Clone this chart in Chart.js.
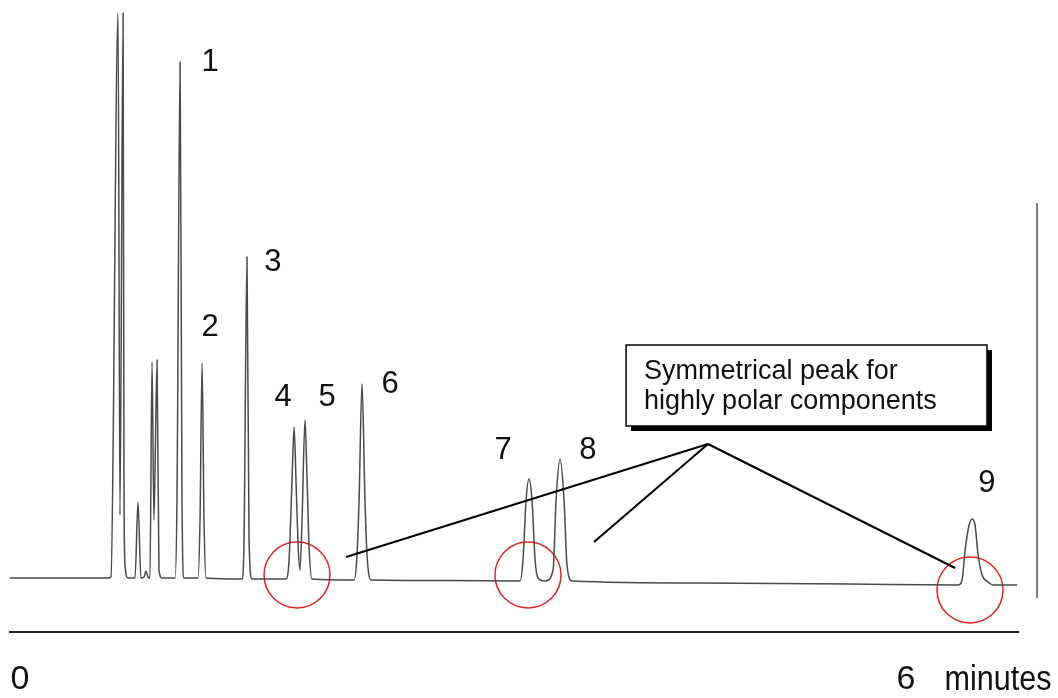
<!DOCTYPE html>
<html>
<head>
<meta charset="utf-8">
<title>Chromatogram</title>
<script src="https://cdn.jsdelivr.net/npm/chart.js@4.4.1/dist/chart.umd.min.js"></script>
<style>
  html, body { margin: 0; padding: 0; background: #fff; }
  .chart-container { position: relative; width: 1058px; height: 698px; }
</style>
</head>
<body>
<div class="chart-container">
  <canvas id="myChart"></canvas>
</div>
<script>
// detector trace: time in minutes, signal in arbitrary units
const traceTime = [-0.068, 0.596, 0.616, 0.664, 0.677, 0.698, 0.704, 0.711, 0.731, 0.779, 0.799, 0.819,
  0.840, 0.853, 0.867, 0.880, 0.894, 0.907, 0.928, 0.941, 0.962, 1.050, 1.063, 1.084, 1.097, 1.111,
  1.205, 1.219, 1.233, 1.246, 1.260, 1.503, 1.517, 1.537, 1.551, 1.571, 1.801, 1.822, 1.842, 1.856,
  1.869, 1.883, 1.896, 1.910, 1.930, 1.944, 1.957, 1.977, 2.262, 2.282, 2.296, 2.316, 2.336, 2.350,
  2.377, 2.912, 3.386, 3.406, 3.427, 3.447, 3.467, 3.488, 3.508, 3.555, 3.610, 3.630, 3.657, 3.684,
  3.704, 3.738, 4.605, 5.621, 6.352, 6.379, 6.400, 6.427, 6.447, 6.467, 6.488, 6.515, 6.555, 6.589, 6.752];
const traceSignal = [54, 54, 55, 619, 117, 619, 157, 67, 54, 54, 130, 54,
  55, 61, 55, 54, 270, 112, 272, 62, 54, 54, 132, 570, 132, 54,
  54, 112, 269, 112, 54, 53, 92, 375, 92, 53, 53, 72, 152, 205,
  152, 87, 62, 112, 212, 152, 87, 53, 52, 77, 132, 248, 132, 77,
  52, 51.5, 51, 72, 132, 153, 132, 72, 54, 51, 62, 132, 173, 132,
  67, 51, 49, 48, 47, 52, 82, 107, 113, 107, 77, 57, 50, 47, 47];

// peak numbers
const peakNames = ['1', '2', '3', '4', '5', '6', '7', '8', '9'];
const peakNameTime = [1.287, 1.287, 1.713, 1.781, 2.079, 2.506, 3.271, 3.846, 6.548];
const peakNameSignal = [570, 305, 370, 235, 235, 248, 182, 182, 149];

// red rings round the symmetrical peaks
const ringTime = [1.876, 3.440, 6.433];
const ringSignal = [57, 57, 42];

// callout
const calloutLines = ['Symmetrical peak for', 'highly polar components'];
const calloutBoxTime = [4.104, 6.548];
const calloutBoxSignal = [206, 287];
const calloutOrigin = [4.659, 188];
const leaderTime = [2.208, 3.887, 6.332];
const leaderSignal = [75, 90, 64];

// signal scale bar on the right
const scaleBarTime = 6.887;
const scaleBarSignal = [34, 429];

const tickValues = [0, 6];
const tickLabels = ['0', '6'];
const unitLabel = 'minutes';
const unitLabelTime = 6.26;

const FONT = "'Liberation Sans', Arial, sans-serif";

const annotations = {
  id: 'annotations',
  afterDatasetsDraw(chart) {
    const { ctx, scales: { x, y } } = chart;
    ctx.save();

    // leader lines
    ctx.strokeStyle = '#000';
    ctx.lineWidth = 2;
    const ox = x.getPixelForValue(calloutOrigin[0]);
    const oy = y.getPixelForValue(calloutOrigin[1]);
    leaderTime.forEach((t, i) => {
      ctx.beginPath();
      ctx.moveTo(ox, oy);
      ctx.lineTo(x.getPixelForValue(t), y.getPixelForValue(leaderSignal[i]));
      ctx.stroke();
    });

    // box with drop shadow
    const bx = x.getPixelForValue(calloutBoxTime[0]);
    const bw = x.getPixelForValue(calloutBoxTime[1]) - bx;
    const by = y.getPixelForValue(calloutBoxSignal[1]);
    const bh = y.getPixelForValue(calloutBoxSignal[0]) - by;
    ctx.fillStyle = '#000';
    ctx.fillRect(bx + 5, by + 5, bw, bh);
    ctx.fillStyle = '#fff';
    ctx.fillRect(bx, by, bw, bh);
    ctx.lineWidth = 1.5;
    ctx.strokeRect(bx, by, bw, bh);
    ctx.fillStyle = '#111';
    ctx.font = '27px ' + FONT;
    ctx.textAlign = 'left';
    ctx.textBaseline = 'alphabetic';
    calloutLines.forEach((line, i) => {
      ctx.fillText(line, bx + 18, by + 34 + i * 30);
    });

    // peak numbers
    ctx.font = '31px ' + FONT;
    ctx.textAlign = 'center';
    ctx.textBaseline = 'middle';
    peakNames.forEach((name, i) => {
      ctx.fillText(name, x.getPixelForValue(peakNameTime[i]), y.getPixelForValue(peakNameSignal[i]));
    });

    // scale bar
    ctx.strokeStyle = '#777';
    ctx.lineWidth = 2;
    const sx = x.getPixelForValue(scaleBarTime);
    ctx.beginPath();
    ctx.moveTo(sx, y.getPixelForValue(scaleBarSignal[0]));
    ctx.lineTo(sx, y.getPixelForValue(scaleBarSignal[1]));
    ctx.stroke();

    // unit next to the last tick (condensed like the original)
    ctx.font = '35px ' + FONT;
    ctx.textAlign = 'left';
    ctx.fillText(unitLabel, x.getPixelForValue(unitLabelTime), x.top + 48.5, 107);

    ctx.restore();
  }
};

new Chart(document.getElementById('myChart'), {
  type: 'line',
  data: {
    datasets: [{
      label: 'trace',
      data: traceTime.map((t, i) => ({ x: t, y: traceSignal[i] })),
      borderColor: '#4a4a4a',
      borderWidth: 1.5,
      pointRadius: 0,
      cubicInterpolationMode: 'monotone',
      fill: false
    }, {
      label: 'rings',
      data: ringTime.map((t, i) => ({ x: t, y: ringSignal[i] })),
      showLine: false,
      pointStyle: 'circle',
      pointRadius: 33,
      pointBorderWidth: 1.5,
      pointBorderColor: '#e52521',
      pointBackgroundColor: 'rgba(0,0,0,0)'
    }]
  },
  options: {
    responsive: true,
    maintainAspectRatio: false,
    animation: false,
    events: [],
    layout: { autoPadding: false, padding: { left: 10, right: 40, top: 0, bottom: 0 } },
    plugins: {
      legend: { display: false },
      tooltip: { enabled: false }
    },
    scales: {
      x: {
        type: 'linear',
        min: -0.0677,
        max: 6.758,
        grid: { display: false, drawTicks: false },
        border: { display: true, color: '#222', width: 2 },
        afterBuildTicks: (scale) => { scale.ticks = tickValues.map(v => ({ value: v })); },
        afterFit: (scale) => {
          scale.height = 66;
          scale.paddingLeft = 0;
          scale.paddingRight = 0;
        },
        ticks: {
          autoSkip: false,
          maxRotation: 0,
          padding: 31,
          color: '#111',
          font: { family: FONT, size: 34, lineHeight: 1 },
          callback: (value) => tickLabels[tickValues.indexOf(value)]
        }
      },
      y: {
        display: false,
        min: 0,
        max: 632
      }
    }
  },
  plugins: [annotations]
});
</script>
</body>
</html>
